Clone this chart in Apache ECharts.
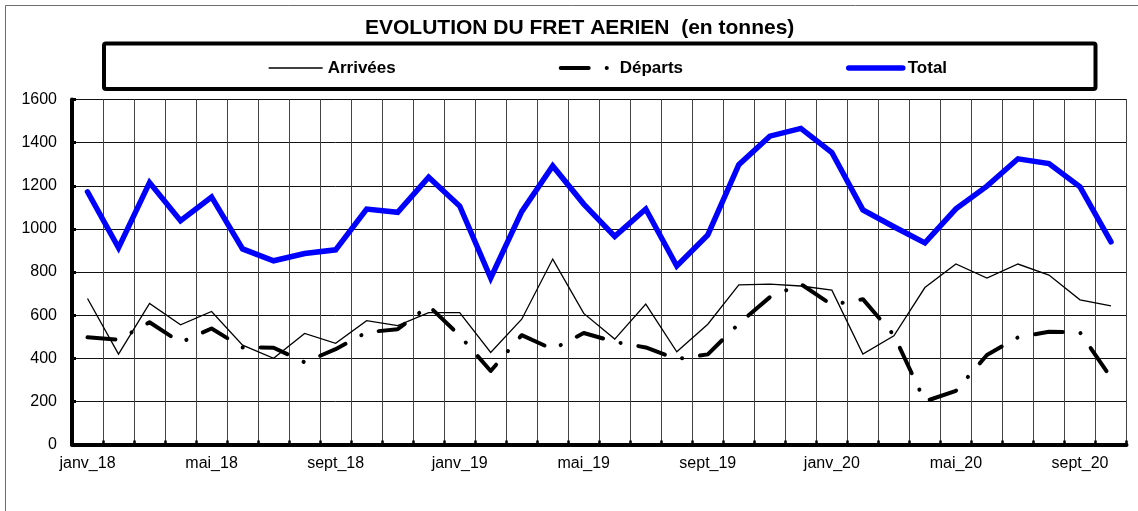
<!DOCTYPE html>
<html>
<head>
<meta charset="utf-8">
<script src="https://cdn.jsdelivr.net/npm/echarts@6/dist/echarts.min.js"></script>
<style>
  html, body { margin: 0; padding: 0; background: #ffffff; }
  #chart { width: 1138px; height: 511px; }
</style>
</head>
<body>
<div id="chart"></div>
<script>
// Mois (janvier 2018 à octobre 2020)
const months = [
  'janv_18','févr_18','mars_18','avr_18','mai_18','juin_18','juil_18','août_18','sept_18','oct_18','nov_18','déc_18',
  'janv_19','févr_19','mars_19','avr_19','mai_19','juin_19','juil_19','août_19','sept_19','oct_19','nov_19','déc_19',
  'janv_20','févr_20','mars_20','avr_20','mai_20','juin_20','juil_20','août_20','sept_20','oct_20'
];

// Fret en tonnes
const arrivees = [677, 419, 654, 555, 617, 461, 400, 515, 469, 574, 551, 612,
                  612, 427, 581, 860, 608, 489, 651, 430, 558, 740, 744, 735,
                  716, 419, 504, 728, 837, 772, 837, 786, 671, 643];
const departs  = [497, 486, 567, 473, 538, 450, 449, 381, 442, 520, 535, 643,
                  505, 341, 507, 442, 517, 476, 450, 396, 418, 560, 683, 744,
                  648, 674, 507, 200, 249, 415, 497, 523, 520, 310];
const total    = [1172, 912, 1215, 1038, 1148, 907, 852, 886, 903, 1092, 1077, 1240,
                  1106, 772, 1080, 1292, 1115, 965, 1092, 828, 972, 1298, 1430, 1466,
                  1354, 1088, 1010, 935, 1093, 1198, 1325, 1303, 1195, 940];

const yTicks = { min: 0, max: 1600, step: 200 };

const FONT = "'Liberation Sans', Arial, sans-serif";
const departsDash = [28, 18, 0.1, 18];
const hiddenSymbol = { opacity: 0 };

const chart = echarts.init(document.getElementById('chart'), null, { renderer: 'canvas' });

chart.setOption({
  backgroundColor: '#ffffff',
  animation: false,
  color: ['#000000', '#000000', '#0000ff'],
  title: {
    text: 'EVOLUTION DU FRET AERIEN  (en tonnes)',
    left: 365,
    top: 18,
    padding: 0,
    textStyle: { fontFamily: FONT, fontSize: 21, fontWeight: 'bold', color: '#000' }
  },
  legend: {
    left: 268,
    top: 59.5,
    padding: 0,
    itemWidth: 54,
    itemHeight: 14,
    itemGap: 163,
    textStyle: { fontFamily: FONT, fontSize: 17, fontWeight: 'bold', color: '#000' },
    data: [
      { name: 'Arrivées', itemStyle: hiddenSymbol, lineStyle: { width: 1.3, color: '#000' } },
      { name: 'Départs', itemStyle: hiddenSymbol, lineStyle: { width: 4, color: '#000', type: departsDash, cap: 'round' } },
      { name: 'Total', itemStyle: hiddenSymbol, lineStyle: { width: 5.5, color: '#0000ff', cap: 'round' } }
    ]
  },
  graphic: [
    {
      type: 'rect', silent: true, z: 0,
      shape: { x: 5.5, y: 5.5, width: 1150, height: 520 },
      style: { fill: null, stroke: '#6e6e6e', lineWidth: 1 }
    },
    {
      type: 'rect', silent: true, z: 1,
      shape: { x: 104, y: 43.5, width: 991.5, height: 45.5, r: 2 },
      style: { fill: null, stroke: '#000', lineWidth: 4 }
    }
  ],
  grid: {
    left: 72,
    right: 11.5,
    top: 99.5,
    bottom: 66.5,
    show: true,
    borderColor: '#333',
    borderWidth: 1,
    containLabel: false
  },
  xAxis: {
    type: 'category',
    data: months,
    boundaryGap: true,
    axisLine: { show: true, lineStyle: { color: '#000', width: 4 } },
    axisTick: { show: true, inside: true, length: 4, interval: 0, lineStyle: { color: '#000', width: 2.5 } },
    axisLabel: { interval: 3, margin: 11, fontFamily: FONT, fontSize: 16, color: '#000' },
    splitLine: { show: true, interval: 0, lineStyle: { color: '#444', width: 1 } }
  },
  yAxis: {
    type: 'value',
    min: yTicks.min,
    max: yTicks.max,
    interval: yTicks.step,
    axisLine: { show: true, lineStyle: { color: '#000', width: 4 } },
    axisTick: { show: true, inside: true, length: 4, lineStyle: { color: '#000', width: 3 } },
    axisLabel: { margin: 15, fontFamily: FONT, fontSize: 16, color: '#000', formatter: (v) => String(v) },
    splitLine: { show: true, lineStyle: { color: '#111', width: 1 } }
  },
  series: [
    {
      name: 'Arrivées', type: 'line', data: arrivees,
      symbol: 'none', smooth: false, z: 3,
      itemStyle: { color: '#000' },
      lineStyle: { color: '#000', width: 1.3, join: 'miter' }
    },
    {
      name: 'Départs', type: 'line', data: departs,
      symbol: 'none', smooth: false, z: 4,
      itemStyle: { color: '#000' },
      lineStyle: { color: '#000', width: 4, type: departsDash, cap: 'round', join: 'round' }
    },
    {
      name: 'Total', type: 'line', data: total,
      symbol: 'none', smooth: false, z: 5,
      itemStyle: { color: '#0000ff' },
      lineStyle: { color: '#0000ff', width: 5.5, cap: 'round', join: 'miter' }
    }
  ]
});
</script>
</body>
</html>
